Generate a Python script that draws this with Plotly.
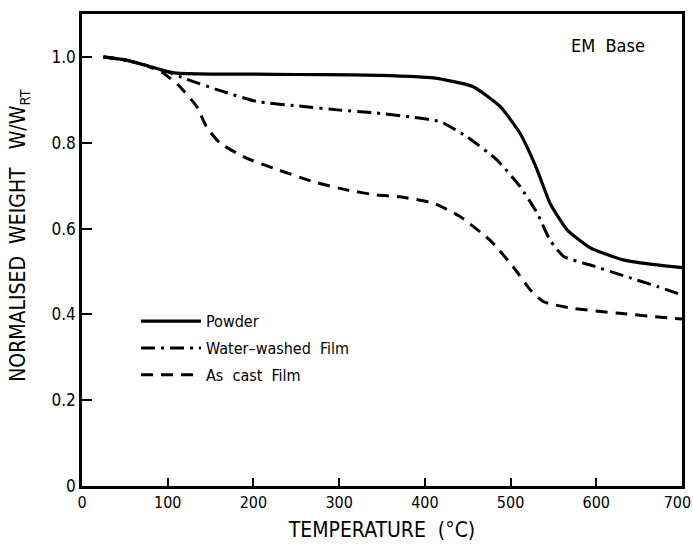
import plotly.graph_objects as go

# Powder
powder_x = [25, 50, 75, 100, 110, 150, 200, 250, 313, 348, 410, 456, 488, 511, 531, 546, 566, 593, 631, 663, 700]
powder_y = [1.0, 0.993, 0.98, 0.966, 0.962, 0.960, 0.960, 0.959, 0.958, 0.957, 0.951, 0.931, 0.884, 0.822, 0.737, 0.659, 0.597, 0.555, 0.527, 0.517, 0.509]

# Water-washed film
water_x = [25, 50, 75, 100, 122, 165, 204, 251, 301, 340, 383, 418, 449, 484, 511, 531, 546, 562, 593, 635, 671, 700]
water_y = [1.0, 0.993, 0.98, 0.965, 0.948, 0.919, 0.896, 0.886, 0.876, 0.870, 0.860, 0.849, 0.814, 0.760, 0.698, 0.636, 0.573, 0.535, 0.515, 0.488, 0.465, 0.445]

# As cast film
cast_x = [25, 50, 75, 95, 114, 134, 145, 161, 192, 223, 270, 309, 344, 371, 410, 441, 476, 503, 523, 538, 569, 624, 700]
cast_y = [1.0, 0.993, 0.98, 0.962, 0.931, 0.884, 0.838, 0.799, 0.764, 0.741, 0.709, 0.690, 0.678, 0.674, 0.659, 0.628, 0.573, 0.511, 0.457, 0.430, 0.415, 0.403, 0.389]

x_ticks = [0, 100, 200, 300, 400, 500, 600, 700]
x_tick_labels = ["0", "100", "200", "300", "400", "500", "600", "700\u00a0\u00a0"]
y_ticks = [0, 0.2, 0.4, 0.6, 0.8, 1.0]
y_tick_labels = ["0", "0.2", "0.4", "0.6", "0.8", "1.0"]

FONT = "DejaVu Sans Condensed, sans-serif"

fig = go.Figure()
fig.add_trace(go.Scatter(x=powder_x, y=powder_y, mode="lines", name="Powder", legendgroup="a",
                         line=dict(color="black", width=3.2, shape="spline", smoothing=0.5)))
fig.add_trace(go.Scatter(x=water_x, y=water_y, mode="lines", name="Water\u2013washed  Film", legendgroup="b",
                         line=dict(color="black", width=3, dash="14px,6px,3px,6px", shape="spline", smoothing=0.5)))
fig.add_trace(go.Scatter(x=cast_x, y=cast_y, mode="lines", name="As  cast  Film", legendgroup="c",
                         line=dict(color="black", width=3, dash="12px,8px", shape="spline", smoothing=0.5)))

fig.add_annotation(text="EM  Base", xref="paper", yref="paper", x=0.877, y=0.934,
                   xanchor="center", yanchor="middle",
                   showarrow=False, font=dict(family=FONT, size=18, color="black"))

fig.add_annotation(text="NORMALISED  WEIGHT   W/W<sub>RT</sub>", xref="paper", yref="paper",
                   x=-0.105, y=0.53, xanchor="center", yanchor="middle", textangle=-90,
                   showarrow=False, font=dict(family=FONT, size=21, color="black"))

fig.update_layout(
    width=693, height=551,
    margin=dict(l=82, r=11, t=14, b=65),
    paper_bgcolor="white", plot_bgcolor="white",
    font=dict(family=FONT, color="black", size=18),
    showlegend=True,
    legend=dict(x=0.09, y=0.385, xanchor="left", yanchor="top",
                bgcolor="rgba(0,0,0,0)", font=dict(family=FONT, size=16),
                tracegroupgap=3, itemwidth=60),
    xaxis=dict(range=[0, 700], tickvals=x_ticks, ticktext=x_tick_labels, ticks="inside", ticklen=8, tickwidth=2,
               tickcolor="black", showline=True, linecolor="black", linewidth=2.5, mirror=True,
               showgrid=False, zeroline=False, ticklabeloverflow="allow", automargin=False,
               tickfont=dict(family=FONT, size=16),
               title=dict(text="TEMPERATURE  (\u00b0C)", font=dict(family=FONT, size=21), standoff=12)),
    yaxis=dict(range=[0, 1.1], tickvals=y_ticks, ticktext=y_tick_labels, ticks="inside", ticklen=10,
               tickwidth=2, tickcolor="black", showline=True, linecolor="black", linewidth=2.5,
               mirror=True, showgrid=False, zeroline=False, automargin=False,
               tickfont=dict(family=FONT, size=17)),
)

fig.write_html("out.html")
